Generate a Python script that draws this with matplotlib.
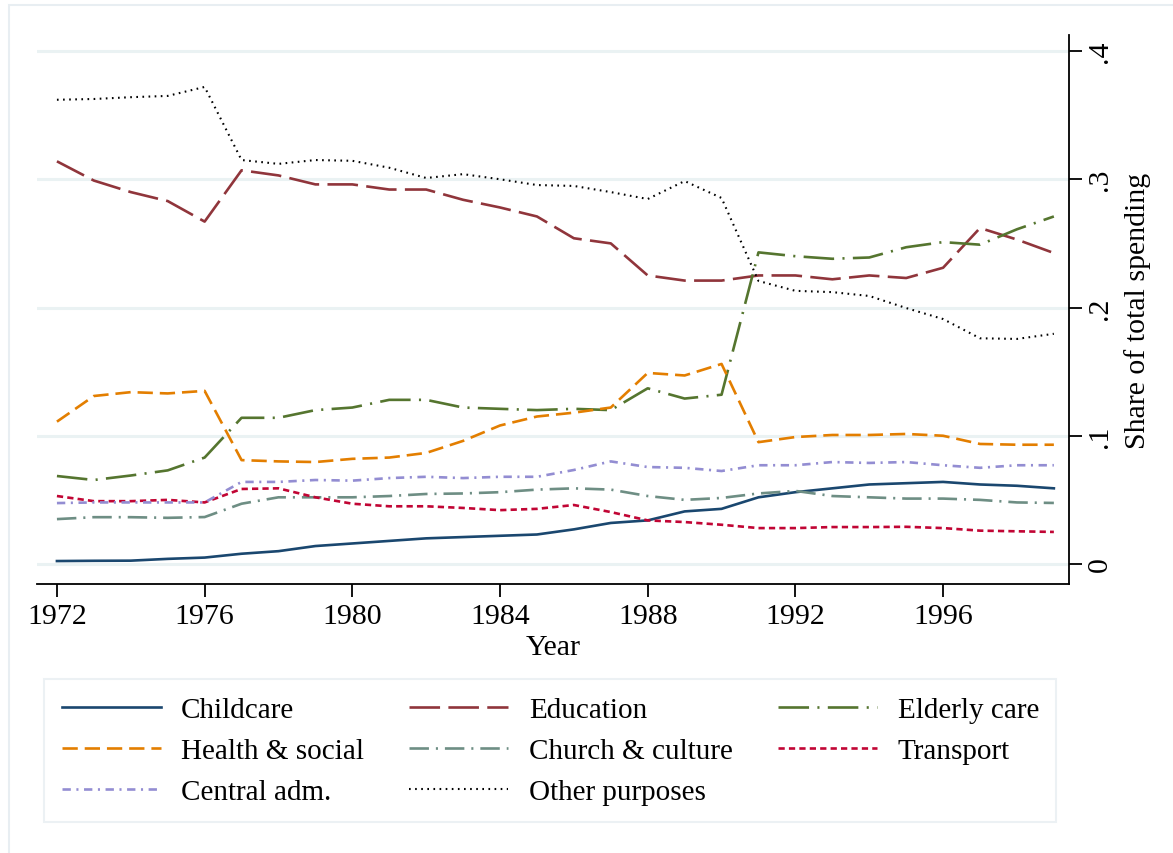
import matplotlib
matplotlib.use("Agg")
import matplotlib.pyplot as plt
from matplotlib.patches import Rectangle

years = list(range(1972, 2000))

childcare = [0.0023, 0.0025, 0.0026, 0.004, 0.005, 0.008, 0.010, 0.014, 0.016, 0.018,
             0.020, 0.021, 0.022, 0.023, 0.027, 0.032, 0.034, 0.041, 0.043, 0.052,
             0.056, 0.059, 0.062, 0.063, 0.064, 0.062, 0.061, 0.059]
education = [0.314, 0.299, 0.290, 0.283, 0.267, 0.307, 0.303, 0.296, 0.296, 0.292,
             0.292, 0.284, 0.278, 0.271, 0.254, 0.250, 0.225, 0.221, 0.221, 0.225,
             0.225, 0.222, 0.225, 0.223, 0.231, 0.262, 0.253, 0.2425]
elderly = [0.0686, 0.0655, 0.069, 0.073, 0.083, 0.114, 0.114, 0.120, 0.122, 0.128,
           0.128, 0.122, 0.121, 0.120, 0.121, 0.120, 0.137, 0.129, 0.132, 0.243,
           0.240, 0.238, 0.239, 0.247, 0.251, 0.249, 0.261, 0.271]
health = [0.111, 0.131, 0.134, 0.133, 0.135, 0.081, 0.080, 0.0795, 0.082, 0.083,
          0.0866, 0.096, 0.108, 0.115, 0.118, 0.122, 0.149, 0.147, 0.156, 0.095,
          0.099, 0.1006, 0.1006, 0.1014, 0.100, 0.0936, 0.093, 0.093]
church = [0.035, 0.0365, 0.0365, 0.036, 0.0366, 0.047, 0.052, 0.052, 0.052, 0.053,
          0.0546, 0.055, 0.056, 0.058, 0.059, 0.058, 0.053, 0.050, 0.0515, 0.055,
          0.057, 0.053, 0.052, 0.051, 0.051, 0.050, 0.048, 0.0476]
transport = [0.053, 0.049, 0.049, 0.050, 0.048, 0.0585, 0.059, 0.052, 0.047, 0.045,
             0.045, 0.0437, 0.042, 0.043, 0.046, 0.0405, 0.034, 0.0327, 0.0306, 0.028,
             0.028, 0.0288, 0.0288, 0.029, 0.028, 0.026, 0.0255, 0.025]
central = [0.0475, 0.048, 0.048, 0.048, 0.048, 0.064, 0.064, 0.0655, 0.065, 0.067,
           0.068, 0.067, 0.068, 0.068, 0.0733, 0.080, 0.0756, 0.075, 0.0725, 0.077,
           0.077, 0.0795, 0.0788, 0.0795, 0.077, 0.075, 0.077, 0.077]
other = [0.362, 0.3626, 0.364, 0.365, 0.372, 0.315, 0.312, 0.315, 0.3144, 0.309,
         0.301, 0.304, 0.300, 0.2955, 0.2948, 0.290, 0.2846, 0.2986, 0.2854, 0.2207,
         0.213, 0.212, 0.209, 0.1996, 0.191, 0.176, 0.1755, 0.1795]

xticks = [1972, 1976, 1980, 1984, 1988, 1992, 1996]
yticks = [0, 0.1, 0.2, 0.3, 0.4]
ytick_labels = ["0", ".1", ".2", ".3", ".4"]

plt.rcParams['font.family'] = ['Liberation Serif', 'DejaVu Serif']
plt.rcParams['lines.scale_dashes'] = False

W, H = 1173, 854
fig = plt.figure(figsize=(W / 100, H / 100), dpi=100)
fig.patch.set_facecolor('white')

# outer region frame
fig.add_artist(Rectangle((9 / W, -0.1), 1.2, 1 - 6 / H + 0.1, transform=fig.transFigure,
                         fill=False, edgecolor='#e8eef2', lw=1.5))

left, right, top, bottom = 37, 1069, 36, 585
ax = fig.add_axes([left / W, 1 - bottom / H, (right - left) / W, (bottom - top) / H])

series = [
    ("Childcare", childcare, '#1a476f', '-', 1.9),
    ("Education", education, '#90353b', (0, (22, 6)), 1.9),
    ("Elderly care", elderly, '#55752f', (0, (22, 6, 1.5, 6)), 1.9),
    ("Health & social", health, '#e37e00', (0, (11, 5)), 1.9),
    ("Church & culture", church, '#6e8e84', (0, (14, 5, 1.5, 5)), 1.9),
    ("Transport", transport, '#c10534', (0, (4.5, 3)), 1.9),
    ("Central adm.", central, '#938dd2', (0, (6, 4, 1.5, 4)), 1.9),
    ("Other purposes", other, '#000000', (0, (1.2, 3.2)), 1.5),
]

handles = {}
for name, vals, col, ls, lw in series:
    h, = ax.plot(years, vals, color=col, linestyle=ls, lw=lw, zorder=3)
    handles[name] = h

for yv in yticks:
    ax.axhline(yv, color='#eaf2f3', lw=2.2, zorder=1)

ax.set_xlim(1971.46, 1999.41)
ax.set_ylim(-0.0156, 0.4125)
ax.set_xticks(xticks)
ax.set_xticklabels([str(t) for t in xticks])
ax.yaxis.tick_right()
ax.yaxis.set_label_position('right')
ax.set_yticks(yticks)
ax.set_yticklabels(ytick_labels, rotation=90, va='center')
ax.tick_params(axis='x', length=9, width=1.3, labelsize=21.5, pad=5)
ax.tick_params(axis='y', length=9, width=1.3, labelsize=21.5, pad=4)
for s in ['top', 'left']:
    ax.spines[s].set_visible(False)
for s in ['bottom', 'right']:
    ax.spines[s].set_linewidth(1.3)
ax.set_xlabel("Year", fontsize=21.5, labelpad=3)
ax.set_ylabel("Share of total spending", fontsize=21.5, labelpad=8)

order = ["Childcare", "Health & social", "Central adm.",
         "Education", "Church & culture", "Other purposes",
         "Elderly care", "Transport"]
leg = fig.legend([handles[n] for n in order], order, ncol=3,
                 loc='upper left', bbox_to_anchor=(44 / W, 1 - 680 / H),
                 fontsize=21, frameon=True, fancybox=False,
                 handlelength=3.4, handletextpad=0.7, columnspacing=1.55,
                 labelspacing=0.5, borderpad=0.6, borderaxespad=0)
leg.get_frame().set_edgecolor('#e8eef2')
leg.get_frame().set_linewidth(1.5)

fig.savefig("out.png", dpi=100)
